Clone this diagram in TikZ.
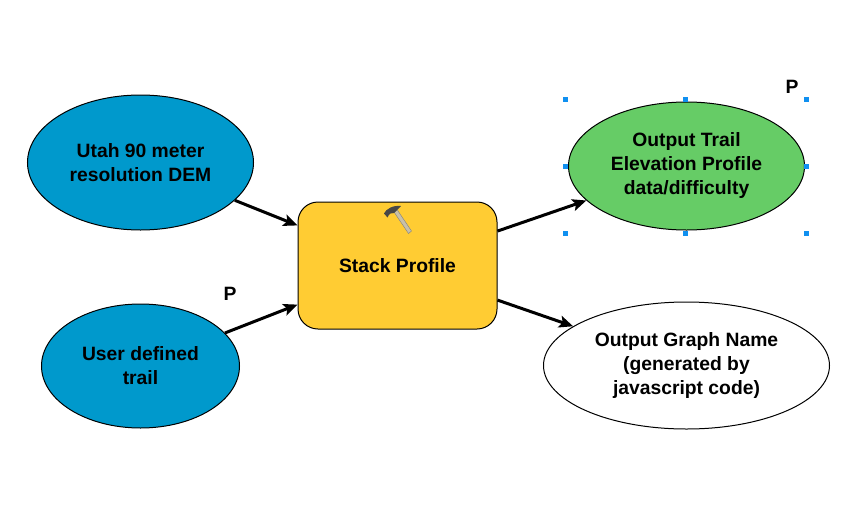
\documentclass[tikz,border=0pt]{standalone}
\usepackage{fontspec}
\setmainfont{Liberation Sans}
\usetikzlibrary{
  arrows.meta,
  positioning,
  shapes.geometric
}
\definecolor{inputFill}{HTML}{0099CC}
\definecolor{toolFill}{HTML}{FFCC33}
\definecolor{outputFill}{HTML}{66CC66}
\definecolor{handleFill}{HTML}{1090F0}
\definecolor{hammerWood}{HTML}{C8C0A8}
\tikzset{
  label text/.style={font=\fontsize{19.3}{24}\selectfont\bfseries, align=center},
  data/.style={
    ellipse,
    draw=black,
    fill=#1,
    line width=1pt,
    inner sep=0pt,
    label text
  },
  tool/.style={
    draw=black,
    fill=toolFill,
    rounded corners=20pt,
    line width=1pt,
    inner sep=0pt,
    label text
  },
  arr/.style={-{Stealth[length=14pt,width=12pt,inset=3pt]}, line width=3pt, black},
  param/.style={font=\fontsize{19.3}{24}\selectfont\bfseries},
  handle/.style={fill=handleFill, minimum size=5pt, inner sep=0pt}
}
\begin{document}
\begin{tikzpicture}[x=1pt, y=1pt]
\useasboundingbox (0,0) rectangle (852,-517);

% --- Tool ---
\node[tool, minimum width=199pt, minimum height=127pt] (stack) at (397.5,-265.5) {Stack Profile};

% --- Inputs ---
\node[data=inputFill, minimum width=226pt, minimum height=135pt, left=43.5pt of stack, yshift=103pt] (dem) {Utah 90 meter\\resolution DEM};
\node[data=inputFill, minimum width=198pt, minimum height=124pt, left=57.5pt of stack, yshift=-100.5pt] (trail) {User defined\\trail};

% --- Outputs ---
\node[data=outputFill, minimum width=236pt, minimum height=128pt, right=70.5pt of stack, yshift=99.5pt] (profile) {Output Trail\\Elevation Profile\\data/difficulty};
\node[data=white, minimum width=286pt, minimum height=127pt, right=45.5pt of stack, yshift=-100pt] (graph) {Output Graph Name\\(generated by\\javascript code)};

\node[param] (ptrail) at (230,-294) {P};
\node[param] (pprofile) at (792,-87) {P};

\draw[arr] (dem) -- (stack);
\draw[arr] (trail) -- (stack);
\draw[arr] (stack) -- (profile);
\draw[arr] (stack) -- (graph);

% --- Selection handles ---
\foreach \hx/\hy in {565/99, 685/99, 806/99, 565/166, 806/166, 565/233, 685/233, 806/233}
  \node[handle] at (\hx,-\hy) {};

% --- Hammer ---
\fill[hammerWood, draw=black!50, line width=0.4pt]
  (394,-212) -- (397,-209.5) -- (411.5,-231) -- (408.5,-233.5) -- cycle;
\fill[black!72] (384,-213.5) .. controls (386,-209) and (393,-205) .. (401,-206)
  -- (397,-210) -- (394,-213) .. controls (391,-212) and (389,-214) .. (387.5,-217.5) -- cycle;
\end{tikzpicture}
\end{document}
